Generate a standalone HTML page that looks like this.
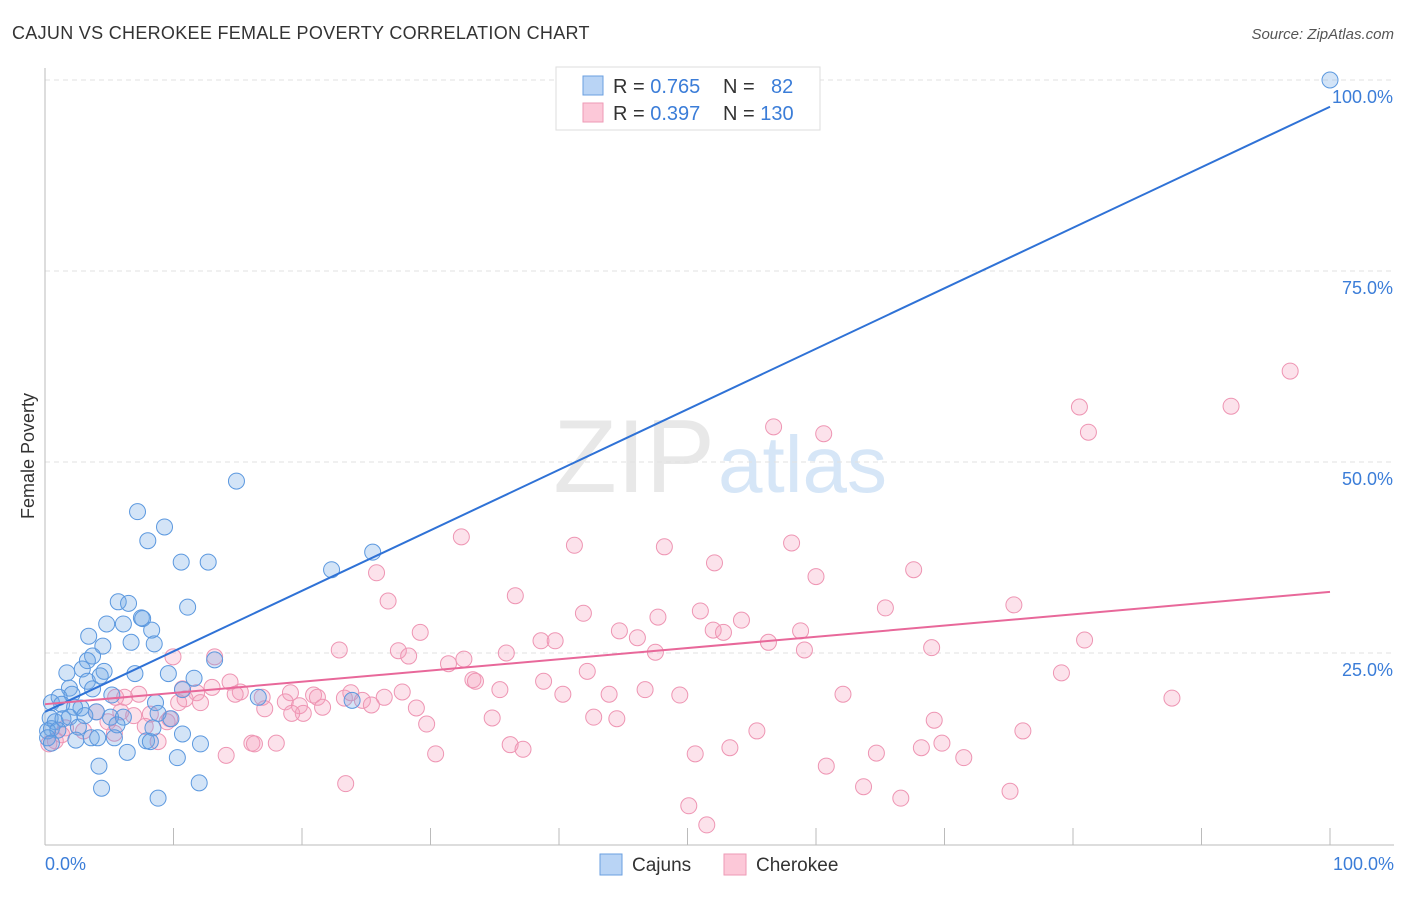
<!DOCTYPE html>
<html><head><meta charset="utf-8"><style>
body{margin:0;background:#fff;font-family:"Liberation Sans",sans-serif;}
svg text{font-family:"Liberation Sans",sans-serif;}
</style></head><body>
<svg id="chart" width="1406" height="892" xmlns="http://www.w3.org/2000/svg">
<text x="12" y="39" font-size="18" fill="#333" letter-spacing="0.3">CAJUN VS CHEROKEE FEMALE POVERTY CORRELATION CHART</text>
<text x="1394" y="39" font-size="15" fill="#555" font-style="italic" text-anchor="end">Source: ZipAtlas.com</text>
<text x="715" y="492" font-size="104" fill="#e8e8e8" text-anchor="end" font-family="Liberation Serif">ZIP</text>
<text x="718" y="492" font-size="80" fill="#d6e6f7">atlas</text>
<g id="grid"></g>
<g id="axes"></g>
<g id="pink"></g>
<g id="blue"></g>
<g id="lines"></g>
<text x="34" y="456" font-size="18" fill="#333" text-anchor="middle" transform="rotate(-90 34 456)">Female Poverty</text>
<text x="45" y="870" font-size="18" fill="#3b7dd8">0.0%</text>
<text x="1394" y="870" font-size="18" fill="#3b7dd8" text-anchor="end">100.0%</text>
<g>
<rect x="556" y="67" width="264" height="63" fill="#fff" stroke="#ddd"/>
<rect x="583" y="76" width="20" height="19" fill="#b9d4f5" stroke="#6a9fe0"/>
<rect x="583" y="103" width="20" height="19" fill="#fcc8d8" stroke="#ee9ab6"/>
<text x="613" y="93" font-size="20" fill="#333">R = <tspan fill="#3b7dd8">0.765</tspan></text>
<text x="723" y="93" font-size="20" fill="#333">N = <tspan fill="#3b7dd8" x="771">82</tspan></text>
<text x="613" y="120" font-size="20" fill="#333">R = <tspan fill="#3b7dd8">0.397</tspan></text>
<text x="723" y="120" font-size="20" fill="#333">N = <tspan fill="#3b7dd8">130</tspan></text>
</g>
<g>
<rect x="600" y="854" width="22" height="21" fill="#b9d4f5" stroke="#6a9fe0"/>
<text x="632" y="871" font-size="19" fill="#333">Cajuns</text>
<rect x="724" y="854" width="22" height="21" fill="#fcc8d8" stroke="#ee9ab6"/>
<text x="756" y="871" font-size="19" fill="#333">Cherokee</text>
</g>
</svg>
<script>
const yTicks=[25,50,75,100];
const yTickLabels=["25.0%","50.0%","75.0%","100.0%"];
const xTicks=[0,10,20,30,40,50,60,70,80,90,100];
const cajunX=[100,14.9,7.2,9.3,8.0,10.6,12.7,25.5,22.3,5.7,6.5,11.1,7.5,7.6,4.8,6.1,8.3,3.4,6.7,8.5,4.5,3.7,3.3,13.2,1.7,2.9,4.6,7.0,9.6,11.6,3.3,4.3,1.9,3.7,5.2,1.1,2.1,10.7,16.6,23.9,0.5,1.3,2.8,4.0,2.3,8.6,0.4,0.8,1.4,1.9,3.1,5.1,6.1,9.8,8.8,5.6,2.6,0.5,0.2,1.0,8.4,10.7,0.2,3.6,2.4,4.1,5.4,7.9,8.2,12.1,6.4,10.3,4.2,4.4,8.8,12.0,0.5];
const cajunY=[100,47.5,43.5,41.5,39.7,36.9,36.9,38.2,35.9,31.7,31.5,31.0,29.6,29.5,28.8,28.8,28.0,27.2,26.4,26.2,25.9,24.6,24.0,24.1,22.4,22.9,22.6,22.3,22.3,21.7,21.3,22.0,20.4,20.3,19.5,19.2,19.6,20.2,19.2,18.8,18.5,18.3,17.8,17.3,17.9,18.5,16.5,16.0,16.4,16.6,16.8,16.6,16.6,16.4,17.1,15.6,15.3,15.1,14.8,14.9,15.2,14.4,13.9,13.9,13.6,13.9,13.9,13.5,13.4,13.1,12.0,11.3,10.2,7.3,6.0,8.0,13.2];
const cherX=[96.9,80.5,92.3,81.2,56.7,60.6,32.4,41.2,48.2,58.1,52.1,67.6,25.8,60.0,36.6,26.7,41.9,51.0,65.4,75.4,47.7,54.2,29.2,44.7,52.0,52.8,58.8,46.1,38.6,39.7,56.3,80.9,22.9,27.5,28.3,35.9,47.5,59.1,69.0,9.96,13.2,32.6,31.4,42.2,79.1,33.3,33.5,38.8,14.4,13.0,10.7,11.8,15.2,14.8,5.5,7.3,6.2,27.8,35.4,40.3,43.9,46.7,49.4,62.1,87.7,16.9,19.1,20.9,21.2,23.3,23.8,24.7,26.4,12.1,10.4,10.9,17.1,18.7,19.8,21.6,25.4,28.9,20.1,19.2,4.0,5.9,8.2,6.9,9.7,34.8,42.7,44.5,69.2,29.7,4.9,1.6,7.8,9.5,3.0,5.4,55.4,76.1,1.3,0.8,8.8,16.1,16.3,18.0,36.2,37.2,69.8,68.2,53.3,14.1,30.4,50.6,64.7,71.5,60.8,23.4,63.7,66.6,75.1,50.1,51.5,0.3];
const cherY=[61.9,57.2,57.3,53.9,54.6,53.7,40.2,39.1,38.9,39.4,36.8,35.9,35.5,35.0,32.5,31.8,30.2,30.5,30.9,31.3,29.7,29.3,27.7,27.9,28.0,27.7,27.9,27.0,26.6,26.6,26.4,26.7,25.4,25.3,24.6,25.0,25.1,25.4,25.7,24.5,24.5,24.2,23.6,22.6,22.4,21.5,21.3,21.3,21.2,20.5,20.3,19.8,19.9,19.6,19.2,19.6,19.2,19.9,20.2,19.6,19.6,20.2,19.5,19.6,19.1,19.2,19.8,19.5,19.2,19.1,19.8,18.8,19.2,18.5,18.5,19.0,17.7,18.6,18.1,17.9,18.2,17.8,17.1,17.1,17.3,17.3,17.0,16.8,16.4,16.5,16.6,16.4,16.2,15.7,16.0,15.2,15.4,16.0,14.8,14.5,14.8,14.8,14.3,13.5,13.4,13.2,13.1,13.2,13.0,12.4,13.2,12.6,12.6,11.6,11.8,11.8,11.9,11.3,10.2,7.9,7.5,6.0,6.9,5.0,2.5,13.1];
const blueLine=[17.3,96.5];
const pinkLine=[18.3,33.0];
const NS="http://www.w3.org/2000/svg";
const sx=v=>45+v*12.85, sy=v=>844-v*7.64;
function mk(tag,attrs,parent){const e=document.createElementNS(NS,tag);for(const k in attrs)e.setAttribute(k,attrs[k]);document.getElementById(parent).appendChild(e);return e;}
let g=mk('line',{x1:45,x2:1394,y1:80,y2:80,stroke:'#ddd','stroke-dasharray':'5,4'},'grid');


yTicks.forEach((t,i)=>{
 const l=mk('line',{x1:45,x2:1394,y1:sy(t),y2:sy(t),stroke:'#e2e2e2','stroke-dasharray':'5,4'},'grid');
 
 
 const tx=mk('text',{x:1393,y:sy(t)+23,'font-size':18,fill:'#3b7dd8','text-anchor':'end'},'grid');
 tx.textContent=yTickLabels[i];
 
 
});
let ax=mk('line',{x1:45,x2:45,y1:68,y2:845,stroke:'#bbb'},'axes');


ax=mk('line',{x1:45,x2:1394,y1:845,y2:845,stroke:'#bbb'},'axes');


xTicks.forEach(t=>{
 const l=mk('line',{x1:sx(t),x2:sx(t),y1:828,y2:845,stroke:'#bbb'},'axes');
 
 
});
cherX.forEach((x,i)=>{
 const c=mk('circle',{cx:sx(x),cy:sy(cherY[i]),r:8,fill:'rgba(245,160,190,0.3)',stroke:'#ee95b3','stroke-width':1},'pink');
 
 
});
cajunX.forEach((x,i)=>{
 const c=mk('circle',{cx:sx(x),cy:sy(cajunY[i]),r:8,fill:'rgba(110,165,230,0.3)',stroke:'#5b98df','stroke-width':1},'blue');
 
 
});
let bl=mk('line',{x1:sx(0),x2:sx(100),y1:sy(blueLine[0]),y2:sy(blueLine[1]),stroke:'#2f72d6','stroke-width':2},'lines');


let pl=mk('line',{x1:sx(0),x2:sx(100),y1:sy(pinkLine[0]),y2:sy(pinkLine[1]),stroke:'#e8689a','stroke-width':2},'lines');


</script>
</body></html>
